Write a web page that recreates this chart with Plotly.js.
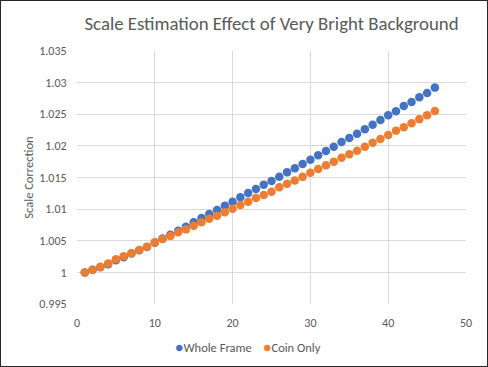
<!DOCTYPE html>
<html>
<head>
<meta charset="utf-8">
<script src="https://cdn.plot.ly/plotly-3.0.1.min.js"></script>
<style>
html,body{margin:0;padding:0;background:#fff;}
#wrap{position:relative;width:488px;height:367px;}
#chart{width:488px;height:367px;}
#frame{position:absolute;left:0;top:0;width:488px;height:367px;box-sizing:border-box;border:1.5px solid #262626;pointer-events:none;}
</style>
</head>
<body>
<div id="wrap"><div id="chart"></div><div id="frame"></div></div>
<script>
var frameIndex = [1,2,3,4,5,6,7,8,9,10,11,12,13,14,15,16,17,18,19,20,21,22,23,24,25,26,27,28,29,30,31,32,33,34,35,36,37,38,39,40,41,42,43,44,45,46];
var wholeFrame = [1.0000,1.0004,1.0008,1.0013,1.0019,1.0024,1.0030,1.0035,1.0040,1.0047,
  1.00537,1.00595,1.00658,1.00722,1.00791,1.00859,1.00922,1.00986,1.01054,1.01117,
  1.01187,1.01255,1.01318,1.01386,1.01445,1.01513,1.01582,1.01646,1.01714,1.01782,
  1.01851,1.01919,1.01987,1.02062,1.02125,1.02193,1.02263,1.02335,1.0241,1.02484,
  1.02547,1.02631,1.02695,1.02769,1.02837,1.02921];
var coinOnly = [1.0000,1.00041,1.00089,1.00142,1.00206,1.00253,1.00301,1.00353,1.00405,1.00475,
  1.00527,1.00574,1.00633,1.0068,1.00737,1.00791,1.00848,1.00896,1.00949,1.01006,
  1.01065,1.01117,1.01176,1.01223,1.01275,1.01345,1.014,1.01452,1.0151,1.01574,
  1.01634,1.01693,1.0175,1.01813,1.01867,1.01924,1.01987,1.02051,1.02109,1.02172,
  1.0224,1.02294,1.02358,1.02421,1.02484,1.0255];
var seriesNames = ["Whole Frame","Coin Only"];
var seriesColors = ["#4472C4","#ED7D31"];

var font = "Calibri, Carlito, 'Open Sans', sans-serif";
var traces = [wholeFrame, coinOnly].map(function(ys,i){
  return {x: frameIndex, y: ys, type:'scatter', mode:'markers', name: seriesNames[i],
    marker:{color: seriesColors[i], size:8.5}, showlegend:false};
});
var legendText = seriesNames.map(function(n,i){
  return "<span style='color:" + seriesColors[i] + ";font-size:14px'>●</span>" + n;
}).join("&nbsp;&nbsp;&nbsp;&nbsp;");
var layout = {
  width:488, height:367,
  margin:{l:77, r:22, t:51, b:63},
  paper_bgcolor:'#fff', plot_bgcolor:'#fff',
  font:{family:font, color:'#595959', size:12},
  title:{text:'Scale Estimation Effect of Very Bright Background', font:{family:font, size:18.8, color:'#595959'},
    x:0.5, xref:'paper', xanchor:'center', y:1-23/367, yref:'container', yanchor:'middle'},
  xaxis:{range:[0,50], dtick:10, tick0:0, showgrid:true, gridcolor:'#D9D9D9', gridwidth:1,
    zeroline:false, showline:false, ticks:'outside', ticklen:8, tickcolor:'rgba(0,0,0,0)', tickfont:{size:12,color:'#595959'}},
  yaxis:{range:[0.995,1.035], dtick:0.005, tick0:0.995, showgrid:true, gridcolor:'#D9D9D9', gridwidth:1,
    zeroline:false, showline:false, ticks:'outside', ticklen:7, tickcolor:'rgba(0,0,0,0)', tickfont:{size:12,color:'#595959'},
    title:{text:'Scale Correction', font:{size:12.5,color:'#595959'}, standoff:2}},
  showlegend:false,
  annotations:[{text: legendText, xref:'paper', yref:'paper', x:(248-77)/389, y:-(347-304)/253,
    xanchor:'center', yanchor:'middle', showarrow:false, font:{size:12.5,color:'#595959'}}]
};
Plotly.newPlot('chart', traces, layout, {displayModeBar:false, staticPlot:true});
</script>
</body>
</html>
